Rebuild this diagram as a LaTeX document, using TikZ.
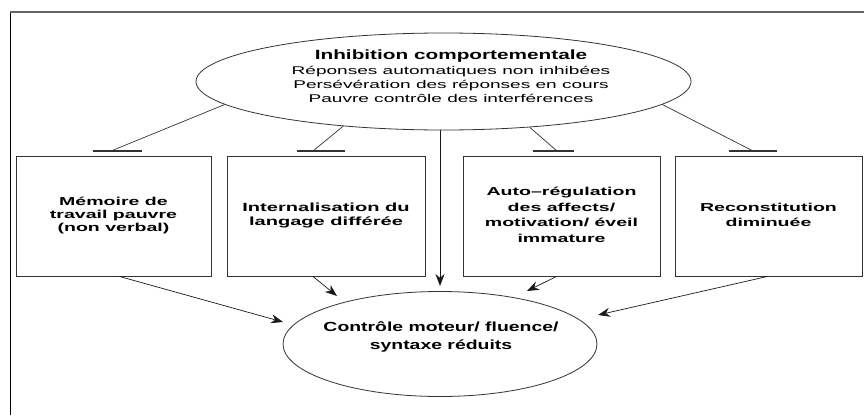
\documentclass[tikz,border=0pt]{standalone}
\usepackage{fontspec}
\setmainfont{Liberation Sans}
\usepackage{graphicx}
\usetikzlibrary{shapes.geometric,arrows.meta}
\newcommand\wtext[3][1.7]{\scalebox{#1}[1]{#2\begin{tabular}{@{}c@{}}#3\end{tabular}}}
\begin{document}
\begin{tikzpicture}[x=1pt,y=-1pt,
  ell/.style={draw=black!80, ellipse, line width=0.8pt, inner sep=0pt},
  box/.style={draw=black!80, line width=0.9pt, minimum height=120, inner sep=0pt},
  arr/.style={draw=black!90, line width=0.7pt, -{Stealth[length=12pt,width=9pt]}},
  inh/.style={draw=black!80, line width=0.7pt},
  bar/.style={draw=black!80, line width=1.1pt},
  lbl/.style={inner sep=0pt}]
\useasboundingbox (0,0) rectangle (864,415);
\draw[black, line width=1pt] (10,415) -- (10,12);
\draw[black!60, line width=1.6pt] (9.5,12) -- (864,12);

\node[ell, minimum width=495, minimum height=97] (top) at (443.5,81.5) {};
\node[lbl] (toptitle) at (451,57) {\wtext[1.55]{\fontsize{13.4}{14}\selectfont\bfseries}{Inhibition comportementale}};
\node[lbl] (toptxt) at (451,86) {\wtext{\fontsize{11.2}{13.8}\selectfont}{Réponses automatiques non inhibées\\ Persévération des réponses en cours\\ Pauvre contrôle des interférences}};

\node[box, minimum width=195] (b1) at (113.5,216) {\wtext{\fontsize{11.5}{13}\selectfont\bfseries}{Mémoire de\\ travail pauvre\\ (non verbal)}};
\node[box, minimum width=198] (b2) at (326,216) {\wtext{\fontsize{11.8}{14}\selectfont\bfseries}{Internalisation du\\ langage différée}};
\node[box, minimum width=197] (b3) at (561.5,216) {\wtext{\fontsize{11.5}{15.5}\selectfont\bfseries}{Auto–régulation\\ des affects/\\ motivation/ éveil\\ immature}};
\node[box, minimum width=187] (b4) at (768.5,216) {\wtext{\fontsize{11.5}{15}\selectfont\bfseries}{Reconstitution\\ diminuée}};

\node[ell, minimum width=314, minimum height=105] (bot) at (440,344) {};
\node[lbl] (bottxt) at (441,337) {\wtext[1.47]{\fontsize{13.2}{17.5}\selectfont\bfseries}{Contrôle moteur/ fluence/\\ syntaxe réduits}};

% inhibition connectors
\coordinate (t1) at (111,151);
\coordinate (t2) at (313,151);
\coordinate (t3) at (557,151);
\coordinate (t4) at (753,151);
\draw[inh] (top.186) -- (t1);
\draw[inh] (top.204) -- (t2);
\draw[inh] (top.332) -- (t3);
\draw[inh] (top.354) -- (t4);
\draw[bar] ([xshift=-18pt]t1) -- ([xshift=31pt]t1);
\draw[bar] ([xshift=-16pt]t2) -- ([xshift=32pt]t2);
\draw[bar] ([xshift=-24pt]t3) -- ([xshift=17pt]t3);
\draw[bar] ([xshift=-24pt]t4) -- ([xshift=24pt]t4);

% arrows to bottom ellipse
\coordinate (e1) at (283,322);
\coordinate (e2) at (337,296);
\coordinate (e3) at (440,286);
\coordinate (e4) at (527,291);
\coordinate (e5) at (598,315);
\draw[arr] ([xshift=6pt]b1.south) -- (e1);
\draw[arr] ([xshift=-13pt]b2.south) -- (e2);
\draw[arr] (e3 |- top.south) -- (e3);
\draw[arr] ([xshift=-5pt]b3.south) -- (e4);
\draw[arr] ([xshift=-1pt]b4.south) -- (e5);
\end{tikzpicture}
\end{document}
